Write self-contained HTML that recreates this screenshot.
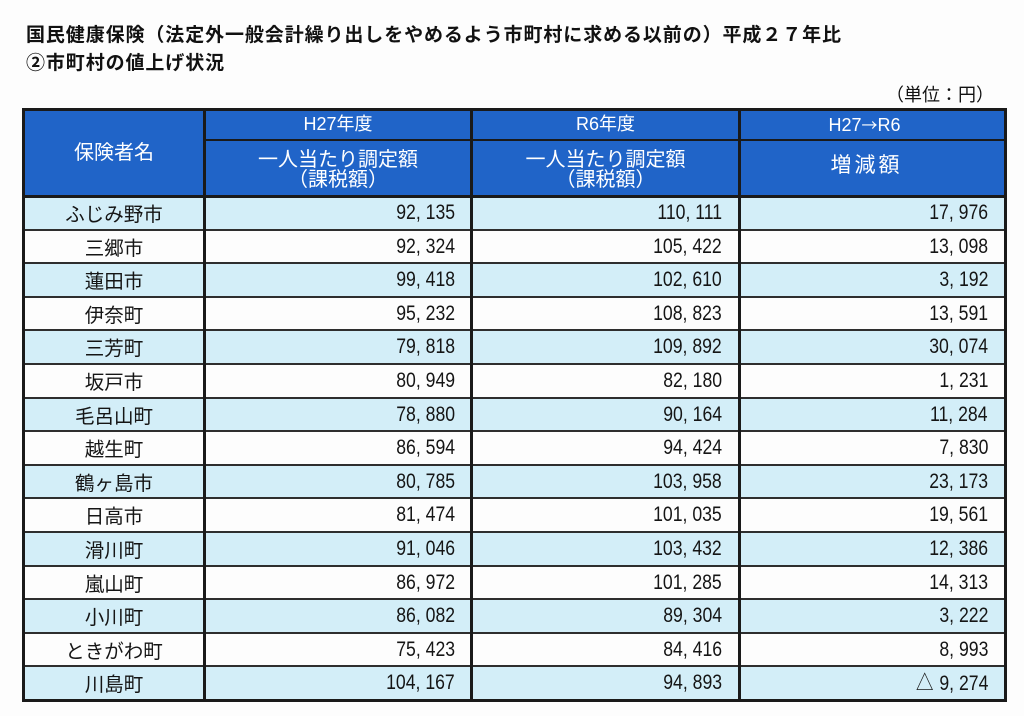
<!DOCTYPE html>
<html><head><meta charset="utf-8">
<style>
html,body{margin:0;padding:0;}
body{width:1024px;height:716px;position:relative;background:#fdfdfd;overflow:hidden;font-family:"Liberation Sans","Noto Sans CJK JP",sans-serif;color:#151515;}
.t{position:absolute;left:26px;font-family:"Noto Sans CJK JP",sans-serif;font-weight:bold;font-size:19px;line-height:19px;letter-spacing:0.9px;white-space:nowrap;color:#111;}
.unit{position:absolute;left:886px;top:85px;font-family:"Noto Sans CJK JP",sans-serif;font-size:18px;line-height:18px;white-space:nowrap;color:#111;}
.hb{position:absolute;left:22px;top:108px;width:985px;height:88px;background:#2064c8;}
.row{position:absolute;left:22px;width:985px;height:33.6px;}
.row.b{background:#d3eef8;}
.n{position:absolute;left:3px;width:178px;text-align:center;line-height:33.6px;font-family:"Noto Sans CJK JP",sans-serif;font-size:19.5px;white-space:nowrap;color:#151515;}
.v{position:absolute;top:0;line-height:33.6px;font-family:"Liberation Sans",sans-serif;font-size:21px;white-space:nowrap;transform:scaleX(.84);transform-origin:right center;color:#151515;}
.c2{right:552px;}
.c3{right:285px;}
.c4{right:19px;}
.tri{font-family:"Noto Sans CJK JP",sans-serif;font-size:21px;margin-right:7px;}
.hl{position:absolute;background:#1a1a1a;}
.rl{position:absolute;left:22px;width:985px;height:2px;background:#2e2e2e;}
.h{position:absolute;color:#fff;font-family:"Liberation Sans","Noto Sans CJK JP",sans-serif;text-align:center;white-space:nowrap;}
.ar{font-family:"Noto Sans CJK JP",sans-serif;font-size:16px;}
</style></head><body>

<div class="t" style="top:23.5px">国民健康保険（法定外一般会計繰り出しをやめるよう市町村に求める以前の）平成２７年比</div>
<div class="t" style="top:51.5px">②市町村の値上げ状況</div>
<div class="unit">（単位：円）</div>

<div class="hb"></div>

<div class="row b" style="top:196px"><span class="n">ふじみ野市</span><span class="v c2">92, 135</span><span class="v c3">110, 111</span><span class="v c4">17, 976</span></div>
<div class="row" style="top:229.6px"><span class="n">三郷市</span><span class="v c2">92, 324</span><span class="v c3">105, 422</span><span class="v c4">13, 098</span></div>
<div class="row b" style="top:263.2px"><span class="n">蓮田市</span><span class="v c2">99, 418</span><span class="v c3">102, 610</span><span class="v c4">3, 192</span></div>
<div class="row" style="top:296.8px"><span class="n">伊奈町</span><span class="v c2">95, 232</span><span class="v c3">108, 823</span><span class="v c4">13, 591</span></div>
<div class="row b" style="top:330.4px"><span class="n">三芳町</span><span class="v c2">79, 818</span><span class="v c3">109, 892</span><span class="v c4">30, 074</span></div>
<div class="row" style="top:364px"><span class="n">坂戸市</span><span class="v c2">80, 949</span><span class="v c3">82, 180</span><span class="v c4">1, 231</span></div>
<div class="row b" style="top:397.6px"><span class="n">毛呂山町</span><span class="v c2">78, 880</span><span class="v c3">90, 164</span><span class="v c4">11, 284</span></div>
<div class="row" style="top:431.2px"><span class="n">越生町</span><span class="v c2">86, 594</span><span class="v c3">94, 424</span><span class="v c4">7, 830</span></div>
<div class="row b" style="top:464.8px"><span class="n">鶴ヶ島市</span><span class="v c2">80, 785</span><span class="v c3">103, 958</span><span class="v c4">23, 173</span></div>
<div class="row" style="top:498.4px"><span class="n">日高市</span><span class="v c2">81, 474</span><span class="v c3">101, 035</span><span class="v c4">19, 561</span></div>
<div class="row b" style="top:532px"><span class="n">滑川町</span><span class="v c2">91, 046</span><span class="v c3">103, 432</span><span class="v c4">12, 386</span></div>
<div class="row" style="top:565.6px"><span class="n">嵐山町</span><span class="v c2">86, 972</span><span class="v c3">101, 285</span><span class="v c4">14, 313</span></div>
<div class="row b" style="top:599.2px"><span class="n">小川町</span><span class="v c2">86, 082</span><span class="v c3">89, 304</span><span class="v c4">3, 222</span></div>
<div class="row" style="top:632.8px"><span class="n">ときがわ町</span><span class="v c2">75, 423</span><span class="v c3">84, 416</span><span class="v c4">8, 993</span></div>
<div class="row b" style="top:666.4px"><span class="n">川島町</span><span class="v c2">104, 167</span><span class="v c3">94, 893</span><span class="v c4"><span class="tri">△</span>9, 274</span></div>

<!-- row lines -->
<div class="rl" style="top:228.6px"></div>
<div class="rl" style="top:262.2px"></div>
<div class="rl" style="top:295.8px"></div>
<div class="rl" style="top:329.4px"></div>
<div class="rl" style="top:363px"></div>
<div class="rl" style="top:396.6px"></div>
<div class="rl" style="top:430.2px"></div>
<div class="rl" style="top:463.8px"></div>
<div class="rl" style="top:497.4px"></div>
<div class="rl" style="top:531px"></div>
<div class="rl" style="top:564.6px"></div>
<div class="rl" style="top:598.2px"></div>
<div class="rl" style="top:631.8px"></div>
<div class="rl" style="top:665.4px"></div>

<!-- header lines -->
<div class="hl" style="left:204px;top:139px;width:803px;height:2px;"></div>
<div class="hl" style="left:22px;top:194.5px;width:985px;height:3px;"></div>
<!-- outer border -->
<div class="hl" style="left:22px;top:108px;width:985px;height:3px;"></div>
<div class="hl" style="left:22px;top:699px;width:985px;height:3px;"></div>
<div class="hl" style="left:22px;top:108px;width:3px;height:594px;"></div>
<div class="hl" style="left:1004px;top:108px;width:3px;height:594px;"></div>
<!-- column dividers -->
<div class="hl" style="left:203px;top:108px;width:3px;height:594px;"></div>
<div class="hl" style="left:470px;top:108px;width:3px;height:594px;"></div>
<div class="hl" style="left:738px;top:108px;width:3px;height:594px;"></div>

<!-- header text -->
<div class="h" style="left:25px;width:178px;top:141px;font-size:20px;line-height:24px;">保険者名</div>
<div class="h" style="left:206px;width:264px;top:112px;font-size:18px;line-height:24px;">H27年度</div>
<div class="h" style="left:473px;width:265px;top:112px;font-size:18px;line-height:24px;">R6年度</div>
<div class="h" style="left:733px;width:263px;top:112px;font-size:18px;line-height:24px;">H27<span class="ar">→</span>R6</div>
<div class="h" style="left:206px;width:264px;top:150px;font-size:20px;line-height:20px;">一人当たり調定額<br>（課税額）</div>
<div class="h" style="left:473px;width:265px;top:150px;font-size:20px;line-height:20px;">一人当たり調定額<br>（課税額）</div>
<div class="h" style="left:735px;width:263px;top:154px;font-size:21px;line-height:24px;letter-spacing:3px;">増減額</div>

</body></html>
